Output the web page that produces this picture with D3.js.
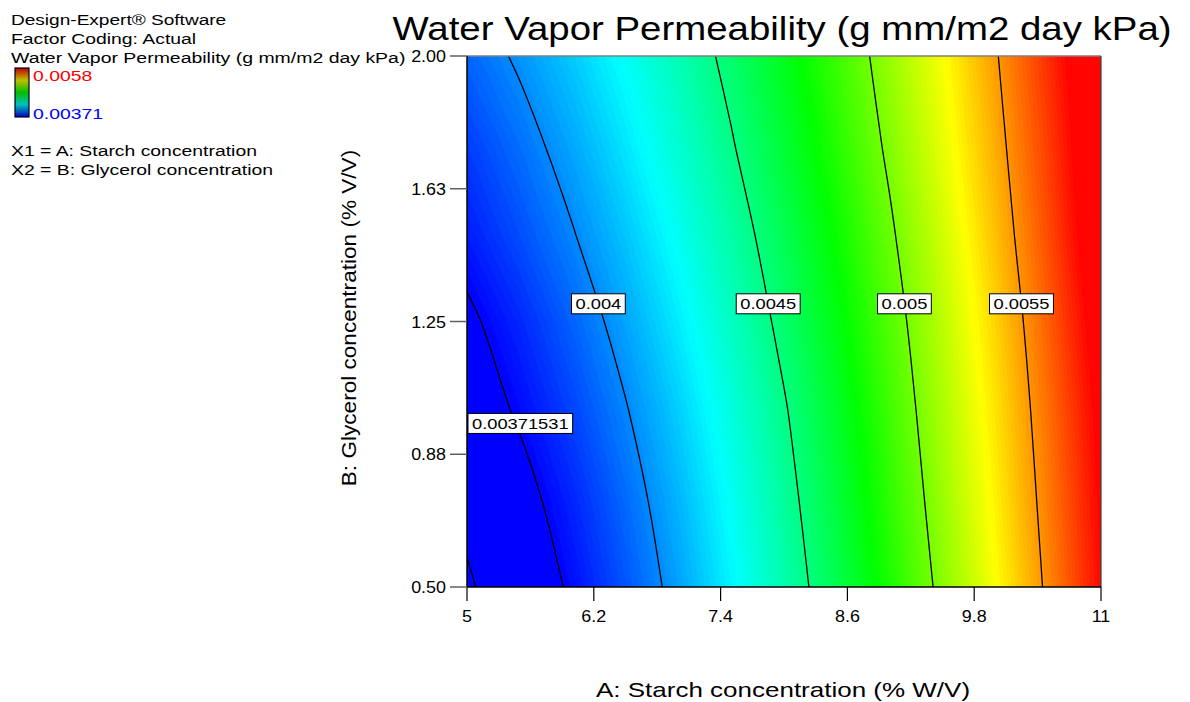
<!DOCTYPE html>
<html>
<head>
<meta charset="utf-8">
<script src="https://cdn.jsdelivr.net/npm/d3@7"></script>
<style>
  body { margin: 0; background: #ffffff; }
  svg { display: block; }
  text { font-family: "Liberation Sans", Arial, sans-serif; }
</style>
</head>
<body>
<svg id="chart" width="1190" height="702"></svg>
<script>
// Factor levels of the response grid (A: starch % W/V, B: glycerol % V/V)
const starchLevels = [5, 5.5, 6, 6.5, 7, 7.5, 8, 8.5, 9, 9.5, 10, 10.5, 11];
const glycerolLevels = [0.5, 0.75, 1.0, 1.25, 1.5, 1.75, 2.0];

// Predicted water vapor permeability (g mm/m2 day kPa), one row per glycerol level
const wvpAtB050 = [0.0037400, 0.0035900, 0.0037423, 0.0038890, 0.0040486, 0.0042211, 0.0044065, 0.0046047, 0.0048159, 0.0050399, 0.0052768, 0.0055266, 0.0057893];
const wvpAtB075 = [0.0036660, 0.0036625, 0.0037917, 0.0039344, 0.0040908, 0.0042609, 0.0044446, 0.0046419, 0.0048529, 0.0050770, 0.0053095, 0.0055537, 0.0058091];
const wvpAtB100 = [0.0036282, 0.0037345, 0.0038554, 0.0039912, 0.0041415, 0.0043065, 0.0044861, 0.0046805, 0.0048895, 0.0051110, 0.0053398, 0.0055799, 0.0058308];
const wvpAtB125 = [0.0036864, 0.0037961, 0.0039189, 0.0040549, 0.0042038, 0.0043659, 0.0045411, 0.0047294, 0.0049307, 0.0051451, 0.0053727, 0.0056132, 0.0058669];
const wvpAtB150 = [0.0037743, 0.0038771, 0.0039936, 0.0041236, 0.0042672, 0.0044245, 0.0045953, 0.0047797, 0.0049778, 0.0051894, 0.0054147, 0.0056536, 0.0059061];
const wvpAtB175 = [0.0038413, 0.0039452, 0.0040620, 0.0041915, 0.0043336, 0.0044883, 0.0046559, 0.0048361, 0.0050289, 0.0052345, 0.0054528, 0.0056839, 0.0059275];
const wvpAtB200 = [0.0039226, 0.0040214, 0.0041329, 0.0042573, 0.0043945, 0.0045445, 0.0047074, 0.0048831, 0.0050717, 0.0052730, 0.0054872, 0.0057142, 0.0059540];

// Contour levels and the glycerol level at which each label sits
const contourLevels = [0.00371531, 0.004, 0.0045, 0.005, 0.0055];
const contourLabels = ["0.00371531", "0.004", "0.0045", "0.005", "0.0055"];
const contourLabelB = [0.962, 1.30, 1.30, 1.30, 1.30];

// Axis ticks
const xTickValues = [5, 6.2, 7.4, 8.6, 9.8, 11];
const xTickLabels = ["5", "6.2", "7.4", "8.6", "9.8", "11"];
const yTickValues = [0.5, 0.875, 1.25, 1.625, 2.0];
const yTickLabels = ["0.50", "0.88", "1.25", "1.63", "2.00"];

// Colour legend range
const legendRange = [0.00371, 0.0058];

const svg = d3.select("#chart");
const plot = { left: 467, right: 1101, top: 56, bottom: 587 };

const x = d3.scaleLinear().domain([5, 11]).range([plot.left, plot.right]);
const y = d3.scaleLinear().domain([0.5, 2.0]).range([plot.bottom, plot.top]);

// Rainbow map: blue -> cyan -> green -> yellow -> red across the legend range
const [vMin, vMax] = legendRange;
const color = d3.scaleLinear()
  .domain(d3.range(5).map(i => vMin + (vMax - vMin) * i / 4))
  .range(["#0000ff", "#00ffff", "#00ff00", "#ffff00", "#ff0000"])
  .clamp(true);

const rows = [wvpAtB050, wvpAtB075, wvpAtB100, wvpAtB125, wvpAtB150, wvpAtB175, wvpAtB200];
const nx = starchLevels.length, ny = glycerolLevels.length;
const grid = rows.flat();

// grid coordinates (sample i sits at i + 0.5) -> pixels
const gx = d3.scaleLinear().domain([0.5, nx - 0.5]).range([x(starchLevels[0]), x(starchLevels[nx - 1])]);
const gy = d3.scaleLinear().domain([0.5, ny - 0.5]).range([y(glycerolLevels[0]), y(glycerolLevels[ny - 1])]);
const gridPath = d3.geoPath(d3.geoTransform({
  point: function (px, py) { this.stream.point(gx(px), gy(py)); }
}));
const contourGen = d3.contours().size([nx, ny]);

const defs = svg.append("defs");
defs.append("clipPath").attr("id", "plotClip")
  .append("rect")
  .attr("x", plot.left).attr("y", plot.top)
  .attr("width", plot.right - plot.left).attr("height", plot.bottom - plot.top);

const surface = svg.append("g").attr("clip-path", "url(#plotClip)");

// Filled surface: base colour then stacked bands of increasing value
surface.append("rect")
  .attr("x", plot.left).attr("y", plot.top)
  .attr("width", plot.right - plot.left).attr("height", plot.bottom - plot.top)
  .attr("fill", color(vMin));

const bandCount = 120;
const bandThresholds = d3.range(bandCount).map(i => vMin + (vMax - vMin) * (i + 0.5) / bandCount);
surface.selectAll("path.band")
  .data(bandThresholds.map(t => contourGen.contour(grid, t)))
  .join("path")
  .attr("class", "band")
  .attr("d", gridPath)
  .attr("fill", d => color(d.value))
  .attr("stroke", d => color(d.value))
  .attr("stroke-width", 0.6);

// Contour lines: keep only the ring pieces inside the sampled domain, drawn as smooth open curves
const lineGeoms = contourLevels.map(t => contourGen.contour(grid, t));
const smoothLine = d3.line()
  .x(p => gx(p[0])).y(p => gy(p[1]))
  .curve(d3.curveCatmullRom.alpha(0.5));
const eps = 1e-6;
const insideDomain = p => p[0] >= 0.5 - eps && p[0] <= nx - 0.5 + eps && p[1] >= 0.5 - eps && p[1] <= ny - 0.5 + eps;

function isoPieces(ring) {
  const pts = ring.slice(0, -1);
  const start = pts.findIndex(p => !insideDomain(p));
  if (start < 0) return [ring];
  const rotated = pts.slice(start).concat(pts.slice(0, start));
  const pieces = [];
  let cur = [];
  rotated.forEach(p => {
    if (insideDomain(p)) cur.push(p);
    else { if (cur.length > 1) pieces.push(cur); cur = []; }
  });
  if (cur.length > 1) pieces.push(cur);
  return pieces;
}

lineGeoms.forEach(geom => {
  geom.coordinates.forEach(poly => poly.forEach(ring => {
    isoPieces(ring).forEach(piece => {
      surface.append("path")
        .attr("class", "iso")
        .attr("d", smoothLine(piece))
        .attr("fill", "none")
        .attr("stroke", "#000")
        .attr("stroke-width", 1.3)
        .attr("stroke-linejoin", "round");
    });
  }));
});

// Axes frame
svg.append("line").attr("x1", plot.left).attr("x2", plot.right).attr("y1", plot.top).attr("y2", plot.top)
  .attr("stroke", "#808080").attr("stroke-width", 1.5);
svg.append("line").attr("x1", plot.right).attr("x2", plot.right).attr("y1", plot.top).attr("y2", plot.bottom)
  .attr("stroke", "#404040").attr("stroke-width", 1.2);
svg.append("line").attr("x1", plot.left).attr("x2", plot.left).attr("y1", plot.top).attr("y2", plot.bottom)
  .attr("stroke", "#000").attr("stroke-width", 1.5);
svg.append("line").attr("x1", plot.left).attr("x2", plot.right).attr("y1", plot.bottom).attr("y2", plot.bottom)
  .attr("stroke", "#000").attr("stroke-width", 1.5);

function stretchedText(g, str, px, py, size, anchor, fill, sx) {
  return g.append("text")
    .attr("transform", `translate(${px},${py}) scale(${sx},1)`)
    .attr("font-size", size)
    .attr("text-anchor", anchor || "start")
    .attr("fill", fill || "#000")
    .text(str);
}

// X axis ticks
const xAxis = svg.append("g");
xTickValues.forEach((v, i) => {
  xAxis.append("line").attr("x1", x(v)).attr("x2", x(v)).attr("y1", plot.bottom).attr("y2", plot.bottom + 14)
    .attr("stroke", "#000").attr("stroke-width", 1.2);
  stretchedText(xAxis, xTickLabels[i], x(v), 622, 16, "middle", "#000", 1.12);
});

// Y axis ticks
const yAxis = svg.append("g");
yTickValues.forEach((v, i) => {
  yAxis.append("line").attr("x1", plot.left - 17).attr("x2", plot.left).attr("y1", y(v)).attr("y2", y(v))
    .attr("stroke", "#606060").attr("stroke-width", 1.5);
  stretchedText(yAxis, yTickLabels[i], plot.left - 21, y(v) + 6, 16, "end", "#000", 1.12);
});

// Axis titles
stretchedText(svg, "A: Starch concentration (% W/V)", 783, 697, 20, "middle", "#000", 1.3);
svg.append("text")
  .attr("transform", `translate(356,318) rotate(-90) scale(1.13,1)`)
  .attr("font-size", 20)
  .attr("text-anchor", "middle")
  .text("B: Glycerol concentration (% V/V)");

// Title
stretchedText(svg, "Water Vapor Permeability (g mm/m2 day kPa)", 782, 40, 34, "middle", "#000", 1.13);

// Contour labels placed where each line crosses its label row
const labelLayer = svg.append("g");
lineGeoms.forEach((geom, k) => {
  const ty = y(contourLabelB[k]);
  let hit = null;
  geom.coordinates.forEach(poly => poly.forEach(ring => {
    for (let i = 1; i < ring.length; i++) {
      const x0 = gx(ring[i - 1][0]), y0 = gy(ring[i - 1][1]);
      const x1 = gx(ring[i][0]), y1 = gy(ring[i][1]);
      if ((y0 - ty) * (y1 - ty) <= 0 && y0 !== y1) {
        const xc = x0 + (x1 - x0) * (ty - y0) / (y1 - y0);
        if (xc > plot.left + 0.5 && xc < plot.right - 0.5 && hit === null) hit = xc;
      }
    }
  }));
  if (hit === null) return;
  const g = labelLayer.append("g");
  const rect = g.append("rect");
  const t = stretchedText(g, contourLabels[k], hit, ty + 5.5, 15, "middle", "#000", 1.22);
  const w = t.node().getComputedTextLength() * 1.22 + 8;
  let cx = hit;
  if (cx - w / 2 < plot.left + 1) cx = plot.left + 1 + w / 2;
  t.attr("transform", `translate(${cx},${ty + 5.5}) scale(1.22,1)`);
  rect.attr("x", cx - w / 2).attr("y", ty - 10).attr("width", w).attr("height", 20)
    .attr("fill", "#fff").attr("stroke", "#000").attr("stroke-width", 1);
});

// Info block and colour legend
const info = svg.append("g");
stretchedText(info, "Design-Expert® Software", 11, 25, 15.5, "start", "#000", 1.23);
stretchedText(info, "Factor Coding: Actual", 11, 44, 15.5, "start", "#000", 1.25);
stretchedText(info, "Water Vapor Permeability (g mm/m2 day kPa)", 11, 63, 15.5, "start", "#000", 1.255);
stretchedText(info, legendRange[1].toString(), 33, 81, 15.5, "start", "#ff0000", 1.25);
stretchedText(info, legendRange[0].toString(), 33, 119, 15.5, "start", "#0000ff", 1.25);
stretchedText(info, "X1 = A: Starch concentration", 11, 156, 15.5, "start", "#000", 1.25);
stretchedText(info, "X2 = B: Glycerol concentration", 11, 175, 15.5, "start", "#000", 1.25);

const grad = defs.append("linearGradient")
  .attr("id", "legendGrad").attr("x1", 0).attr("x2", 0).attr("y1", 1).attr("y2", 0);
color.domain().forEach((v, i) => {
  grad.append("stop").attr("offset", i / 4).attr("stop-color", d3.interpolateRgb(color(v), "#000")(0.25));
});
info.append("rect").attr("x", 15).attr("y", 68).attr("width", 14).attr("height", 49)
  .attr("fill", "url(#legendGrad)").attr("stroke", "#000022").attr("stroke-width", 1.2);
</script>
</body>
</html>
